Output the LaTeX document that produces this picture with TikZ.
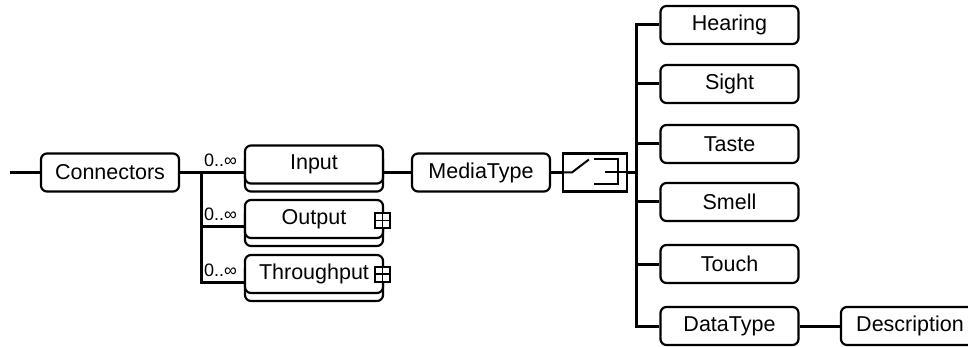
\documentclass[tikz,border=0pt]{standalone}
\usepackage{fontspec}
\setmainfont{Liberation Sans}
\begin{document}
\begin{tikzpicture}[x=1pt,y=-1pt,
  box/.style={draw, line width=2.2pt, rounded corners=6pt, fill=white,
    minimum width=138pt, minimum height=38pt, inner sep=0pt,
    font=\fontsize{21.5}{24}\selectfont},
  shadowbox/.style={draw, line width=2.2pt, rounded corners=6pt, fill=white,
    minimum width=138pt, minimum height=38pt, inner sep=0pt},
  conn/.style={line width=3pt},
  card/.style={anchor=base west, inner sep=0pt, font=\fontsize{18}{20}\selectfont},
  plusbox/.style={draw, line width=2pt, fill=white, minimum size=15pt, inner sep=0pt},
  choicebox/.style={draw, line width=2.2pt, fill=white, minimum width=64pt, minimum height=38pt, inner sep=0pt}
]
\useasboundingbox (0,0) rectangle (968,347);
\clip (0,0) rectangle (968,347);

% left part
\coordinate (start) at (10,172.5);
\node[box] (conn) at (110,172.5) {Connectors};

\node[shadowbox] (inb) at (314,172.5) {};
\node[box] (in) at (314,164.5) {Input};
\node[shadowbox] (outb) at (314,227) {};
\node[box] (out) at (314,219) {Output};
\node[shadowbox] (thrb) at (314,282) {};
\node[box] (thr) at (314,274) {Throughput};

\node[plusbox] (plo) at (382.5,220.5) {};
\draw[line width=1.6pt] (plo.west) -- (plo.east) (plo.north) -- (plo.south);
\node[plusbox] (plt) at (382.5,274) {};
\draw[line width=1.6pt] (plt.west) -- (plt.east) (plt.north) -- (plt.south);

\coordinate (split) at (201.5,172.5);
\draw[conn] (start) -- (conn.west);
\draw[conn] (conn.east) -- (split);
\draw[conn] (split) |- (thrb.west);
\draw[conn] (split) -- (inb.west);
\draw[conn] (split) |- (outb.west);

\node[card] (c1) at (204,167) {0..∞};
\node[card] (c2) at (204,221) {0..∞};
\node[card] (c3) at (204,276) {0..∞};

% media type
\node[box] (mt) at (481,172.5) {MediaType};
\draw[conn] (inb.east) -- (mt.west);

\node[choicebox] (ch) at (595,172.5) {};
\draw[conn] (mt.east) -- (ch.west);
\draw[line width=2pt] (ch.west) -- ++(10,0) -- ++(17,-13);
\draw[line width=2pt] (594,159.5) -- (618,159.5) -- (618,184.5) -- (594,184.5);
\draw[line width=2pt] (605,172.5) -- (ch.east);

% senses
\node[box] (hear) at (729.5,25) {Hearing};
\node[box] (sight) at (729.5,84) {Sight};
\node[box] (taste) at (729.5,144) {Taste};
\node[box] (smell) at (729.5,202) {Smell};
\node[box] (touch) at (729.5,264) {Touch};
\node[box] (dt) at (729.5,326) {DataType};
\node[box] (desc) at (910,326) {Description};

\coordinate (bus) at (636,172.5);
\draw[conn] (ch.east) -- (bus);
\draw[conn] (hear.west) -| (bus);
\draw[conn] (dt.west) -| (bus);
\draw[conn] (sight.west) -- (sight.west -| bus);
\draw[conn] (taste.west) -- (taste.west -| bus);
\draw[conn] (smell.west) -- (smell.west -| bus);
\draw[conn] (touch.west) -- (touch.west -| bus);
\draw[conn] (dt.east) -- (desc.west);
\end{tikzpicture}
\end{document}
